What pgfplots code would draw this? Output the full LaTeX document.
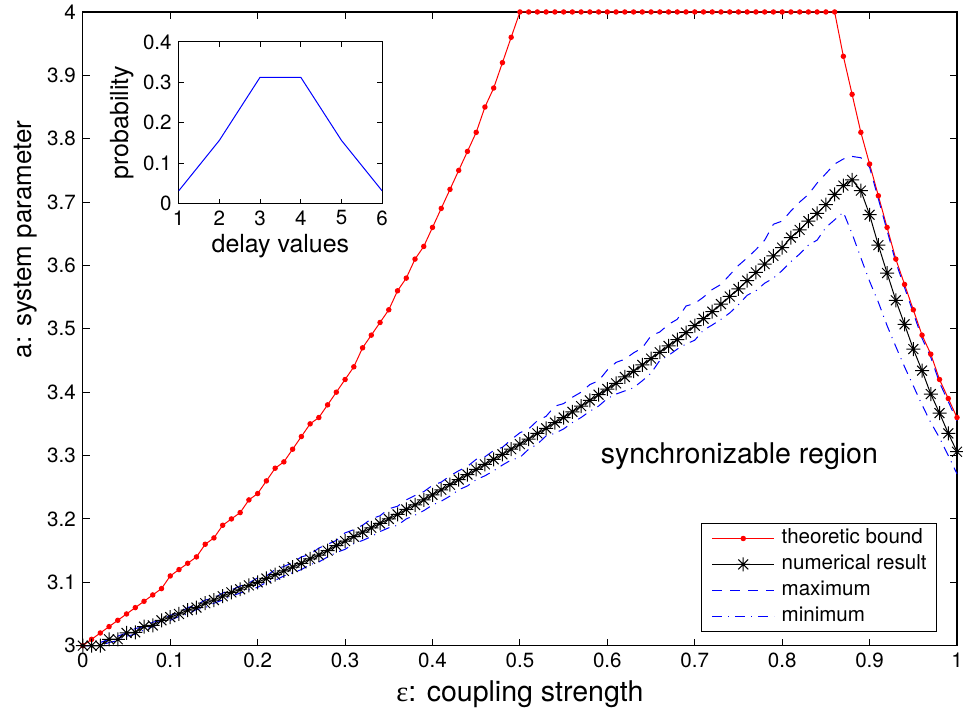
\documentclass[border=0pt]{standalone}
\usepackage{fontspec}
\setmainfont{TeX Gyre Heros}
\newfontfamily\symfont{Liberation Serif}
\usepackage{pgfplots}
\usepackage{pgfplotstable}
\pgfplotsset{compat=1.18}

% 8-armed asterisk like the matlab '*' marker
\pgfdeclareplotmark{mstar}{%
  \pgfpathmoveto{\pgfqpoint{-\pgfplotmarksize}{0pt}}%
  \pgfpathlineto{\pgfqpoint{\pgfplotmarksize}{0pt}}%
  \pgfpathmoveto{\pgfqpoint{0pt}{-\pgfplotmarksize}}%
  \pgfpathlineto{\pgfqpoint{0pt}{\pgfplotmarksize}}%
  \pgfpathmoveto{\pgfqpoint{-0.707\pgfplotmarksize}{-0.707\pgfplotmarksize}}%
  \pgfpathlineto{\pgfqpoint{0.707\pgfplotmarksize}{0.707\pgfplotmarksize}}%
  \pgfpathmoveto{\pgfqpoint{-0.707\pgfplotmarksize}{0.707\pgfplotmarksize}}%
  \pgfpathlineto{\pgfqpoint{0.707\pgfplotmarksize}{-0.707\pgfplotmarksize}}%
  \pgfusepathqstroke}

\pgfplotstableread{
x bound num max min
0.00 3.00 3.000 3.000 3.000
0.01 3.01 3.000 3.000 3.000
0.02 3.02 3.000 3.005 3.000
0.03 3.03 3.010 3.010 3.005
0.04 3.04 3.010 3.015 3.008
0.05 3.05 3.020 3.020 3.015
0.06 3.06 3.021 3.027 3.018
0.07 3.07 3.030 3.030 3.025
0.08 3.08 3.032 3.037 3.030
0.09 3.09 3.040 3.040 3.035
0.10 3.11 3.045 3.048 3.040
0.11 3.12 3.050 3.052 3.046
0.12 3.13 3.056 3.060 3.050
0.13 3.14 3.060 3.064 3.057
0.14 3.16 3.067 3.072 3.060
0.15 3.17 3.072 3.075 3.067
0.16 3.19 3.078 3.083 3.072
0.17 3.20 3.084 3.088 3.078
0.18 3.21 3.089 3.094 3.083
0.19 3.23 3.095 3.099 3.088
0.20 3.24 3.100 3.107 3.092
0.21 3.26 3.106 3.110 3.100
0.22 3.28 3.112 3.120 3.103
0.23 3.29 3.118 3.125 3.110
0.24 3.31 3.124 3.131 3.115
0.25 3.33 3.130 3.140 3.120
0.26 3.35 3.137 3.144 3.128
0.27 3.36 3.143 3.154 3.132
0.28 3.38 3.150 3.160 3.140
0.29 3.40 3.158 3.166 3.147
0.30 3.42 3.165 3.178 3.152
0.31 3.44 3.172 3.183 3.161
0.32 3.47 3.179 3.190 3.166
0.33 3.49 3.186 3.200 3.172
0.34 3.51 3.193 3.205 3.180
0.35 3.53 3.200 3.216 3.186
0.36 3.56 3.207 3.220 3.190
0.37 3.58 3.215 3.230 3.200
0.38 3.61 3.222 3.237 3.206
0.39 3.63 3.230 3.243 3.213
0.40 3.66 3.238 3.253 3.222
0.41 3.69 3.246 3.258 3.228
0.42 3.72 3.254 3.268 3.236
0.43 3.75 3.262 3.276 3.246
0.44 3.78 3.270 3.283 3.252
0.45 3.81 3.278 3.294 3.262
0.46 3.85 3.286 3.298 3.268
0.47 3.88 3.294 3.308 3.276
0.48 3.92 3.302 3.313 3.285
0.49 3.96 3.310 3.325 3.293
0.50 4.00 3.318 3.336 3.297
0.51 4.00 3.326 3.342 3.310
0.52 4.00 3.335 3.355 3.318
0.53 4.00 3.343 3.362 3.331
0.54 4.00 3.352 3.378 3.335
0.55 4.00 3.360 3.382 3.342
0.56 4.00 3.369 3.392 3.352
0.57 4.00 3.378 3.400 3.360
0.58 4.00 3.387 3.412 3.370
0.59 4.00 3.396 3.418 3.378
0.60 4.00 3.405 3.435 3.390
0.61 4.00 3.414 3.447 3.397
0.62 4.00 3.424 3.452 3.402
0.63 4.00 3.433 3.462 3.407
0.64 4.00 3.443 3.470 3.418
0.65 4.00 3.453 3.489 3.430
0.66 4.00 3.463 3.495 3.450
0.67 4.00 3.473 3.507 3.458
0.68 4.00 3.483 3.515 3.468
0.69 4.00 3.494 3.536 3.476
0.70 4.00 3.505 3.540 3.482
0.71 4.00 3.516 3.550 3.498
0.72 4.00 3.527 3.562 3.506
0.73 4.00 3.539 3.570 3.515
0.74 4.00 3.551 3.585 3.525
0.75 4.00 3.563 3.600 3.538
0.76 4.00 3.576 3.612 3.553
0.77 4.00 3.589 3.625 3.560
0.78 4.00 3.602 3.640 3.572
0.79 4.00 3.615 3.665 3.580
0.80 4.00 3.628 3.670 3.592
0.81 4.00 3.644 3.686 3.606
0.82 4.00 3.656 3.700 3.618
0.83 4.00 3.670 3.712 3.632
0.84 4.00 3.682 3.730 3.640
0.85 4.00 3.696 3.745 3.660
0.86 4.00 3.712 3.760 3.672
0.87 3.93 3.726 3.768 3.684
0.88 3.87 3.735 3.772 3.650
0.89 3.81 3.718 3.770 3.612
0.90 3.76 3.680 3.755 3.575
0.91 3.71 3.632 3.705 3.542
0.92 3.66 3.588 3.655 3.505
0.93 3.61 3.545 3.605 3.472
0.94 3.57 3.507 3.565 3.440
0.95 3.53 3.468 3.525 3.410
0.96 3.49 3.434 3.485 3.380
0.97 3.46 3.397 3.455 3.352
0.98 3.42 3.367 3.415 3.328
0.99 3.39 3.335 3.385 3.300
1.00 3.36 3.306 3.355 3.271
}\sync

\begin{document}
\begin{tikzpicture}
\begin{axis}[
  name=main, at={(0,0)}, anchor=south west,
  scale only axis, width=438pt, height=317.5pt,
  xmin=0, xmax=1, ymin=3, ymax=4,
  xtick={0,0.1,0.2,0.3,0.4,0.5,0.6,0.7,0.8,0.9,1},
  ytick={3,3.1,3.2,3.3,3.4,3.5,3.6,3.7,3.8,3.9,4},
  tick align=inside, major tick length=3.5pt,
  tick style={black, line width=0.5pt},
  axis line style={line width=0.6pt},
  ticklabel style={font=\fontsize{10.3}{12}\selectfont},
  /pgf/number format/assume math mode=true,
  clip=false,
  xlabel={{\symfont ε}: coupling strength},
  ylabel={a: system parameter},
  xlabel style={font=\fontsize{14.3}{17}\selectfont, at={(axis description cs:0.5,-0.0879)}, anchor=base, inner sep=0pt},
  ylabel style={font=\fontsize{13}{15}\selectfont, at={(axis description cs:-0.0654,0.641)}, anchor=center, inner sep=0pt},
  legend style={at={(axis description cs:0.977,0.022)}, anchor=south east,
    font=\fontsize{10.3}{12}\selectfont, fill=white,
    inner xsep=5pt, inner ysep=2.5pt, row sep=3pt, column sep=3.5pt,
    nodes={inner sep=0pt, text height=7.5pt, text depth=2.5pt}},
  legend cell align=left,
  legend image code/.code={\draw[mark repeat=2,mark phase=2] plot coordinates {(0pt,0pt) (15.5pt,0pt) (31pt,0pt)};},
]
\addplot[color=red, line width=0.5pt, mark=*, mark size=1.1pt] table[x=x, y=bound] {\sync};
\addplot[color=black, line width=0.5pt, mark=mstar, mark size=3.5pt] table[x=x, y=num] {\sync};
\addplot[color=blue, draw=blue, line width=0.5pt, dash pattern=on 5pt off 4pt] table[x=x, y=max] {\sync};
\addplot[color=blue, draw=blue, line width=0.5pt, dash pattern=on 5pt off 3pt on 0.5pt off 3pt] table[x=x, y=min] {\sync};
\legend{theoretic bound, numerical result, maximum, minimum}
\node[font=\fontsize{14.3}{17}\selectfont, anchor=base] at (axis cs:0.751,3.287) {synchronizable region};
\end{axis}

% inset: delay distribution
\begin{axis}[
  name=inset, at={(48pt,221.5pt)}, anchor=south west,
  scale only axis, width=102pt, height=81pt,
  xmin=1, xmax=6, ymin=0, ymax=0.4,
  xtick={1,2,3,4,5,6}, ytick={0,0.1,0.2,0.3,0.4},
  tick align=inside, major tick length=2.5pt,
  tick style={black, line width=0.5pt},
  axis line style={line width=0.6pt},
  axis background/.style={fill=white},
  ticklabel style={font=\fontsize{10.3}{12}\selectfont},
  /pgf/number format/assume math mode=true,
  xlabel={delay values}, ylabel={probability},
  xlabel style={font=\fontsize{12.5}{15}\selectfont, at={(axis description cs:0.5,-0.302)}, anchor=base, inner sep=0pt},
  ylabel style={font=\fontsize{12.5}{15}\selectfont, at={(axis description cs:-0.279,0.5)}, anchor=center, inner sep=0pt},
]
\addplot[blue, line width=0.5pt] coordinates {(1,0.03125) (2,0.15625) (3,0.3125) (4,0.3125) (5,0.15625) (6,0.03125)};
\end{axis}

\pgfresetboundingbox
\path[use as bounding box] (-41.5pt,-31.5pt) rectangle (441pt,323.5pt);
\end{tikzpicture}
\end{document}
